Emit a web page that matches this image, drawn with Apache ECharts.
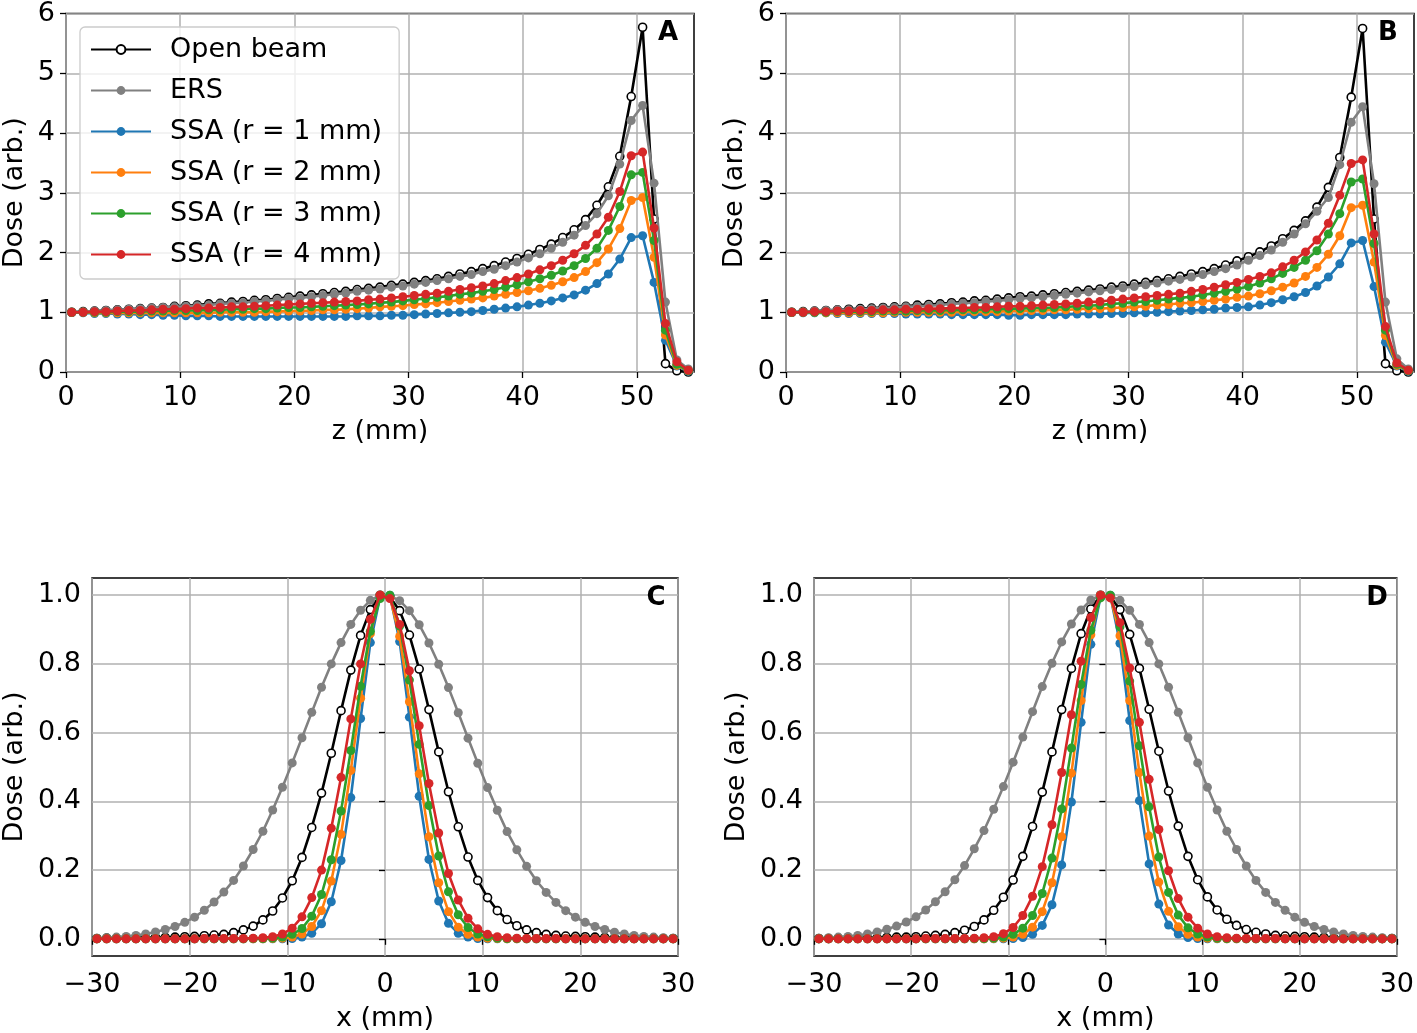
<!DOCTYPE html>
<html>
<head>
<meta charset="utf-8">
<script src="https://cdn.jsdelivr.net/npm/echarts@6/dist/echarts.min.js"></script>
<style>
  html, body { margin: 0; padding: 0; background: #fff; }
  #chart { width: 1417px; height: 1033px; }
</style>
</head>
<body>
<div id="chart"></div>
<script>
// depth positions (mm) for the top panels, lateral positions (mm) for the bottom panels
const zPos = [0.5,1.5,2.5,3.5,4.5,5.5,6.5,7.5,8.5,9.5,10.5,11.5,12.5,13.5,14.5,15.5,16.5,17.5,18.5,19.5,
  20.5,21.5,22.5,23.5,24.5,25.5,26.5,27.5,28.5,29.5,30.5,31.5,32.5,33.5,34.5,35.5,36.5,37.5,38.5,39.5,
  40.5,41.5,42.5,43.5,44.5,45.5,46.5,47.5,48.5,49.5,50.5,51.5,52.5,53.5,54.5];
const xPos = [-29.5,-28.5,-27.5,-26.5,-25.5,-24.5,-23.5,-22.5,-21.5,-20.5,-19.5,-18.5,-17.5,-16.5,-15.5,
  -14.5,-13.5,-12.5,-11.5,-10.5,-9.5,-8.5,-7.5,-6.5,-5.5,-4.5,-3.5,-2.5,-1.5,-0.5,
  0.5,1.5,2.5,3.5,4.5,5.5,6.5,7.5,8.5,9.5,10.5,11.5,12.5,13.5,14.5,15.5,16.5,17.5,18.5,19.5,
  20.5,21.5,22.5,23.5,24.5,25.5,26.5,27.5,28.5,29.5];

const seriesNames = ['Open beam', 'ERS', 'SSA (r = 1 mm)', 'SSA (r = 2 mm)', 'SSA (r = 3 mm)', 'SSA (r = 4 mm)'];
const panelLetters = ['A', 'B', 'C', 'D'];
const zTicks = [0, 10, 20, 30, 40, 50];
const xTicks = [-30, -20, -10, 0, 10, 20, 30];
const doseTicksTop = [0, 1, 2, 3, 4, 5, 6];
const doseTicksBottom = [0, 0.2, 0.4, 0.6, 0.8, 1.0];

// panel A: depth dose
const openA = [1.00,1.01,1.02,1.03,1.04,1.05,1.06,1.07,1.08,1.10,1.11,1.12,1.14,1.15,1.17,1.18,1.20,1.21,1.23,1.25,
  1.27,1.29,1.31,1.33,1.35,1.38,1.40,1.42,1.45,1.47,1.50,1.53,1.56,1.60,1.64,1.68,1.73,1.78,1.84,1.90,
  1.97,2.05,2.14,2.25,2.38,2.55,2.79,3.10,3.61,4.61,5.77,2.56,0.14,0.02,0.00];
const ersA = [1.00,1.01,1.02,1.03,1.04,1.05,1.06,1.07,1.08,1.09,1.10,1.11,1.12,1.14,1.15,1.16,1.18,1.19,1.21,1.23,
  1.24,1.26,1.28,1.30,1.32,1.35,1.37,1.39,1.42,1.44,1.47,1.50,1.53,1.56,1.60,1.63,1.68,1.72,1.78,1.84,
  1.91,1.98,2.07,2.17,2.29,2.45,2.65,2.95,3.48,4.21,4.46,3.16,1.17,0.20,0.05];
const ssa1A = [1.00,0.99,0.98,0.98,0.97,0.97,0.96,0.96,0.95,0.95,0.94,0.94,0.94,0.93,0.93,0.93,0.93,0.93,0.93,0.93,
  0.93,0.93,0.93,0.93,0.93,0.94,0.94,0.94,0.95,0.95,0.96,0.97,0.98,0.99,1.00,1.01,1.03,1.05,1.07,1.09,
  1.12,1.15,1.19,1.24,1.29,1.37,1.48,1.64,1.89,2.25,2.28,1.50,0.53,0.10,0.01];
const ssa2A = [1.00,1.00,0.99,0.99,0.99,0.99,0.99,0.99,0.99,0.99,0.99,0.99,0.99,1.00,1.00,1.00,1.00,1.01,1.01,1.02,
  1.02,1.03,1.04,1.04,1.05,1.06,1.07,1.09,1.10,1.11,1.13,1.14,1.16,1.18,1.20,1.22,1.24,1.27,1.30,1.33,
  1.36,1.40,1.45,1.51,1.58,1.68,1.83,2.06,2.40,2.87,2.92,1.92,0.62,0.11,0.02];
const ssa3A = [1.00,1.00,1.00,1.00,1.01,1.01,1.01,1.02,1.02,1.03,1.03,1.03,1.04,1.04,1.05,1.05,1.06,1.06,1.07,1.08,
  1.08,1.09,1.10,1.11,1.12,1.13,1.14,1.16,1.17,1.19,1.21,1.23,1.25,1.27,1.30,1.32,1.35,1.38,1.42,1.46,
  1.51,1.56,1.62,1.69,1.78,1.90,2.07,2.37,2.77,3.30,3.34,2.20,0.70,0.13,0.02];
const ssa4A = [1.00,1.00,1.01,1.01,1.02,1.03,1.03,1.04,1.05,1.05,1.06,1.07,1.07,1.08,1.09,1.09,1.10,1.11,1.12,1.13,
  1.14,1.15,1.16,1.17,1.18,1.19,1.21,1.22,1.24,1.26,1.28,1.30,1.32,1.35,1.38,1.41,1.44,1.48,1.53,1.58,
  1.64,1.71,1.78,1.87,1.98,2.12,2.31,2.59,3.02,3.62,3.68,2.41,0.81,0.17,0.03];

// panel B: depth dose
const openB = [1.00,1.01,1.02,1.03,1.04,1.05,1.06,1.07,1.08,1.09,1.10,1.12,1.13,1.14,1.16,1.17,1.19,1.20,1.22,1.24,
  1.26,1.27,1.29,1.31,1.33,1.35,1.37,1.39,1.42,1.44,1.47,1.50,1.53,1.56,1.60,1.64,1.68,1.73,1.79,1.86,
  1.93,2.01,2.11,2.23,2.37,2.53,2.76,3.09,3.59,4.60,5.75,2.56,0.14,0.02,0.00];
const ersB = [1.00,1.01,1.02,1.03,1.04,1.04,1.05,1.06,1.07,1.08,1.09,1.10,1.11,1.12,1.14,1.15,1.16,1.18,1.19,1.21,
  1.23,1.24,1.26,1.28,1.30,1.32,1.34,1.36,1.38,1.41,1.43,1.46,1.49,1.52,1.55,1.59,1.63,1.68,1.73,1.79,
  1.87,1.95,2.04,2.17,2.31,2.48,2.69,2.92,3.47,4.18,4.44,3.15,1.17,0.22,0.05];
const ssa1B = [1.00,0.99,0.99,0.99,0.98,0.98,0.98,0.98,0.98,0.98,0.97,0.97,0.97,0.97,0.96,0.96,0.96,0.96,0.96,0.95,
  0.95,0.96,0.96,0.96,0.96,0.97,0.97,0.97,0.98,0.98,0.99,0.99,1.00,1.01,1.02,1.03,1.04,1.05,1.07,1.08,
  1.09,1.12,1.16,1.21,1.26,1.33,1.44,1.59,1.81,2.16,2.20,1.43,0.50,0.10,0.01];
const ssa2B = [1.00,1.00,1.00,0.99,0.99,0.99,0.99,0.99,0.99,1.00,1.00,1.00,1.00,1.00,1.00,1.01,1.01,1.01,1.01,1.02,
  1.02,1.03,1.03,1.04,1.04,1.05,1.06,1.06,1.07,1.08,1.09,1.10,1.12,1.13,1.15,1.16,1.18,1.20,1.22,1.25,
  1.27,1.31,1.36,1.42,1.49,1.60,1.75,1.97,2.28,2.75,2.79,1.84,0.61,0.11,0.02];
const ssa3B = [1.00,1.00,1.00,1.00,1.01,1.01,1.01,1.01,1.02,1.02,1.02,1.03,1.03,1.03,1.04,1.04,1.04,1.05,1.05,1.06,
  1.06,1.07,1.07,1.08,1.09,1.10,1.11,1.12,1.14,1.15,1.17,1.18,1.20,1.22,1.24,1.26,1.29,1.32,1.35,1.39,
  1.43,1.49,1.56,1.65,1.75,1.87,2.03,2.31,2.65,3.18,3.23,2.15,0.70,0.13,0.02];
const ssa4B = [1.00,1.00,1.01,1.01,1.02,1.02,1.03,1.03,1.04,1.04,1.05,1.05,1.06,1.06,1.07,1.07,1.08,1.08,1.09,1.10,
  1.10,1.11,1.12,1.13,1.14,1.15,1.17,1.18,1.20,1.22,1.24,1.26,1.28,1.30,1.32,1.35,1.38,1.42,1.46,1.50,
  1.55,1.60,1.66,1.76,1.87,2.01,2.21,2.49,2.96,3.49,3.55,2.31,0.76,0.15,0.03];

// panel C: lateral profiles
const openC = [0.001,0.002,0.002,0.002,0.003,0.003,0.004,0.004,0.005,0.006,0.007,0.009,0.011,0.013,0.018,
  0.026,0.037,0.055,0.081,0.119,0.169,0.237,0.324,0.424,0.540,0.664,0.782,0.883,0.958,1.000,
  0.995,0.955,0.884,0.785,0.667,0.544,0.428,0.326,0.238,0.170,0.120,0.082,0.056,0.038,0.026,
  0.018,0.013,0.010,0.008,0.007,0.006,0.005,0.004,0.003,0.003,0.002,0.002,0.002,0.001,0.001];
const ersC = [0.002,0.003,0.005,0.007,0.010,0.014,0.020,0.027,0.036,0.048,0.063,0.083,0.107,0.136,0.170,
  0.212,0.260,0.313,0.375,0.441,0.512,0.585,0.659,0.732,0.800,0.862,0.915,0.956,0.985,1.000,
  0.998,0.984,0.955,0.914,0.861,0.799,0.731,0.658,0.584,0.511,0.440,0.374,0.312,0.259,0.211,
  0.169,0.135,0.106,0.082,0.063,0.048,0.036,0.027,0.019,0.014,0.010,0.007,0.005,0.003,0.002];
const ssa1C = [0,0,0,0,0,0,0,0,0,0,0,0,0,0,0,0,0,0,0,0,
  0.001,0.005,0.016,0.044,0.108,0.228,0.411,0.641,0.862,0.995,
  1.000,0.865,0.645,0.415,0.231,0.110,0.045,0.016,0.005,0.001,
  0,0,0,0,0,0,0,0,0,0,0,0,0,0,0,0,0,0,0,0];
const ssa2C = [0,0,0,0,0,0,0,0,0,0,0,0,0,0,0,0,0,0,
  0.001,0.002,0.005,0.014,0.036,0.082,0.168,0.304,0.490,0.700,0.888,1.000,
  0.995,0.880,0.690,0.480,0.297,0.163,0.079,0.034,0.013,0.005,0.002,0.001,
  0,0,0,0,0,0,0,0,0,0,0,0,0,0,0,0,0,0];
const ssa3C = [0,0,0,0,0,0,0,0,0,0,0,0,0,0,0,0,
  0.001,0.001,0.002,0.005,0.013,0.030,0.066,0.129,0.230,0.372,0.548,0.735,0.895,0.990,
  1.000,0.910,0.753,0.566,0.388,0.241,0.137,0.070,0.033,0.014,0.006,0.002,0.001,0.001,
  0,0,0,0,0,0,0,0,0,0,0,0,0,0,0,0];
const ssa4C = [0,0,0,0,0,0,0,0,0,0,0,
  0.001,0.001,0.001,0.001,0.001,0.002,0.003,0.006,0.014,0.031,0.064,0.120,0.200,0.322,0.470,0.640,0.800,0.930,1.000,
  0.990,0.915,0.780,0.620,0.452,0.308,0.190,0.113,0.060,0.029,0.013,0.006,0.003,0.002,0.001,0.001,0.001,0.001,
  0,0,0,0,0,0,0,0,0,0,0,0];

// panel D: lateral profiles
const openD = [0.001,0.001,0.002,0.002,0.002,0.003,0.003,0.004,0.005,0.005,0.006,0.008,0.010,0.013,0.018,
  0.025,0.036,0.055,0.083,0.121,0.171,0.240,0.327,0.427,0.544,0.667,0.787,0.888,0.960,1.000,
  0.996,0.958,0.886,0.787,0.668,0.546,0.430,0.328,0.240,0.172,0.122,0.084,0.057,0.039,0.027,
  0.019,0.014,0.010,0.008,0.007,0.006,0.005,0.004,0.003,0.003,0.002,0.002,0.002,0.001,0.001];
const ersD = [0.002,0.003,0.005,0.007,0.010,0.014,0.020,0.028,0.037,0.049,0.064,0.084,0.108,0.137,0.172,
  0.213,0.262,0.315,0.377,0.443,0.514,0.587,0.661,0.734,0.802,0.864,0.916,0.957,0.986,1.000,
  0.999,0.985,0.956,0.915,0.862,0.800,0.732,0.659,0.585,0.512,0.441,0.375,0.313,0.260,0.212,
  0.170,0.135,0.106,0.083,0.063,0.048,0.036,0.027,0.020,0.014,0.010,0.007,0.005,0.003,0.002];
const ssa1D = [0,0,0,0,0,0,0,0,0,0,0,0,0,0,0,0,0,0,0,0,
  0.001,0.004,0.013,0.039,0.099,0.215,0.398,0.630,0.857,0.995,
  1.000,0.860,0.635,0.402,0.218,0.101,0.040,0.014,0.004,0.001,
  0,0,0,0,0,0,0,0,0,0,0,0,0,0,0,0,0,0,0,0];
const ssa2D = [0,0,0,0,0,0,0,0,0,0,0,0,0,0,0,0,0,0,
  0.001,0.002,0.005,0.013,0.034,0.079,0.163,0.297,0.482,0.693,0.885,1.000,
  0.997,0.882,0.693,0.484,0.299,0.165,0.080,0.035,0.013,0.005,0.002,0.001,
  0,0,0,0,0,0,0,0,0,0,0,0,0,0,0,0,0,0];
const ssa3D = [0,0,0,0,0,0,0,0,0,0,0,0,0,0,0,0,
  0.001,0.001,0.002,0.005,0.013,0.031,0.068,0.132,0.235,0.378,0.555,0.740,0.898,0.992,
  1.000,0.908,0.750,0.562,0.384,0.238,0.135,0.069,0.032,0.014,0.005,0.002,0.001,0.001,
  0,0,0,0,0,0,0,0,0,0,0,0,0,0,0,0];
const ssa4D = [0,0,0,0,0,0,0,0,0,0,0,
  0.001,0.001,0.001,0.001,0.001,0.002,0.003,0.006,0.015,0.033,0.068,0.124,0.210,0.332,0.484,0.652,0.808,0.935,1.000,
  0.992,0.920,0.788,0.630,0.464,0.318,0.198,0.117,0.063,0.031,0.014,0.006,0.003,0.002,0.001,0.001,0.001,0.001,
  0,0,0,0,0,0,0,0,0,0,0,0];

const FONT = '"DejaVu Sans", "Liberation Sans", sans-serif';
const colors = ['#000000', '#808080', '#1f77b4', '#ff7f0e', '#2ca02c', '#d62728'];

const panels = [
  { xs: zPos, rows: [openA, ersA, ssa1A, ssa2A, ssa3A, ssa4A] },
  { xs: zPos, rows: [openB, ersB, ssa1B, ssa2B, ssa3B, ssa4B] },
  { xs: xPos, rows: [openC, ersC, ssa1C, ssa2C, ssa3C, ssa4C] },
  { xs: xPos, rows: [openD, ersD, ssa1D, ssa2D, ssa3D, ssa4D] },
];

const grids = [
  { left: 66, top: 13, width: 628, height: 359 },
  { left: 786, top: 13, width: 628, height: 359 },
  { left: 92, top: 578, width: 586, height: 382 },
  { left: 814, top: 578, width: 587, height: 382 },
].map(g => Object.assign(g, { show: true, borderColor: '#000', borderWidth: 1.5, backgroundColor: 'transparent', containLabel: false }));

const fmtNum = (digits) => v => v.toFixed(digits).replace('-', '\u2212');

const baseAxis = (idx, ticks, digits) => ({
  gridIndex: idx,
  type: 'value',
  axisLine: { show: false },
  axisTick: { show: true, length: 6, inside: false, customValues: ticks, lineStyle: { color: '#000', width: 1.3 } },
  axisLabel: { customValues: ticks, fontSize: 27, color: '#000', fontFamily: FONT, formatter: fmtNum(digits) },
  splitLine: { show: true, lineStyle: { color: '#b0b0b0', width: 1.5 } },
  nameLocation: 'middle',
  nameTextStyle: { fontSize: 27, color: '#000', fontFamily: FONT },
});

const xAxes = [0, 1, 2, 3].map(i => {
  const top = i < 2;
  const ax = baseAxis(i, top ? zTicks : xTicks, 0);
  ax.min = top ? 0 : -30;
  ax.max = top ? 55 : 30;
  ax.interval = 10;
  ax.name = top ? 'z (mm)' : 'x (mm)';
  ax.nameGap = top ? 46 : 49;
  ax.axisLabel.margin = top ? 12 : 15;
  return ax;
});

const yAxes = [0, 1, 2, 3].map(i => {
  const top = i < 2;
  const ax = baseAxis(i, top ? doseTicksTop : doseTicksBottom, top ? 0 : 1);
  if (top) {
    ax.min = 0; ax.max = 6; ax.interval = 1;
  } else {
    ax.min = -0.05; ax.max = 1.05;
  }
  ax.name = 'Dose (arb.)';
  ax.nameGap = top ? 38 : 64;
  ax.axisLabel.margin = 11;
  return ax;
});

const series = [];
panels.forEach((p, idx) => {
  p.rows.forEach((ys, i) => {
    series.push({
      name: seriesNames[i],
      type: 'line',
      xAxisIndex: idx,
      yAxisIndex: idx,
      data: p.xs.map((x, k) => [x, ys[k]]),
      symbol: 'circle',
      symbolSize: i === 0 ? 8 : 9,
      showSymbol: true,
      silent: true,
      lineStyle: { color: colors[i], width: 2.6 },
      itemStyle: i === 0
        ? { color: '#ffffff', borderColor: '#000000', borderWidth: 1.6 }
        : { color: colors[i], borderWidth: 0 },
      emphasis: { disabled: true },
      z: 2 + i,
    });
  });
});

const letterPos = [[668, 33], [1388, 33], [656, 598], [1377, 598]];
const graphic = panelLetters.map((t, i) => ({
  type: 'text',
  x: letterPos[i][0],
  y: letterPos[i][1],
  z: 100,
  style: { text: t, font: 'bold 26px ' + FONT, fill: '#000', align: 'center', verticalAlign: 'middle' },
}));

const chart = echarts.init(document.getElementById('chart'), null, { renderer: 'canvas' });
chart.setOption({
  animation: false,
  backgroundColor: '#ffffff',
  grid: grids,
  xAxis: xAxes,
  yAxis: yAxes,
  legend: {
    data: seriesNames,
    orient: 'vertical',
    left: 80,
    top: 27,
    itemWidth: 60,
    itemHeight: 11,
    itemGap: 14,
    padding: [9, 17, 11, 10],
    backgroundColor: 'rgba(255,255,255,0.8)',
    borderColor: '#cccccc',
    borderWidth: 1.3,
    borderRadius: 5,
    selectedMode: false,
    textStyle: { fontSize: 27, color: '#000', fontFamily: FONT, padding: [0, 0, 0, 14] },
    z: 20,
  },
  graphic: graphic,
  series: series,
});
</script>
</body>
</html>
